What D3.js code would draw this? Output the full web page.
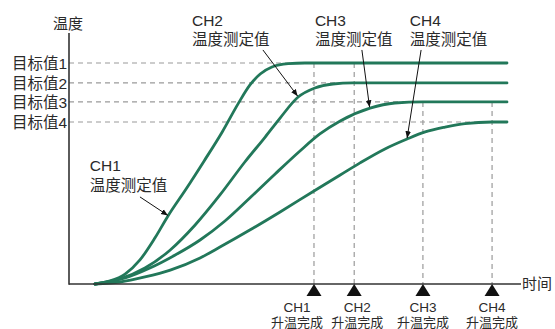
<!DOCTYPE html>
<html><head><meta charset="utf-8">
<script src="https://cdn.jsdelivr.net/npm/d3@7"></script>
<style>
html,body{margin:0;padding:0;background:#fff;}
svg{display:block;font-family:"Liberation Sans","Noto Sans CJK SC",sans-serif;}
</style></head>
<body>
<svg id="c" width="555" height="329"></svg>
<script>
// ---- data (time 0..100, temperature as % of target 1) ----
const channels = ["CH1","CH2","CH3","CH4"];
const targetLabels = ["目标值1","目标值2","目标值3","目标值4"];
const targets = [100, 91, 82.4, 73.3];
const doneTimes = [54.2, 63.1, 78.3, 93.6];
const endTime = 96.9;
const ch1 = [[5.75,0],[9.1,1.4],[12.4,4.5],[15.7,10.9],[19.0,20.8],[21.9,30.8],[25.9,43.0],[29.9,55.7],[33.9,68.8],[37.4,81.5],[40.0,90.0],[42.3,95.0],[44.9,98.2],[48.5,99.7],[52.2,100],[54.2,100],[96.9,100]];
const ch2 = [[5.75,0],[11.3,2.3],[16.8,7.2],[22.4,15.4],[27.9,26.7],[33.4,40.3],[38.9,55.2],[43.4,66.5],[46.7,75.1],[50.7,84.6],[54.4,88.7],[58.4,90.5],[62.8,91],[63.1,91],[96.9,91]];
const ch3 = [[5.75,0],[12.4,2.7],[17.9,7.2],[23.5,13.1],[29.0,19.9],[34.5,28.5],[40.0,38.9],[45.6,49.8],[51.1,60.2],[55.5,67.9],[60.0,73.8],[66.6,79.6],[72.1,81.9],[78.3,82.4],[96.9,82.4]];
const ch4 = [[5.75,0],[11.3,0.9],[16.8,3.2],[22.4,6.3],[29.0,11.8],[33.4,16.7],[40.0,24.4],[46.7,32.6],[54.2,42.1],[60.0,49.3],[64.4,54.8],[69.9,61.1],[74.8,65.6],[78.8,68.8],[83.2,71.0],[87.6,72.6],[93.6,73.3],[96.9,73.3]];
const series = [ch1, ch2, ch3, ch4];
const vLineTop = [100, 100, 82.4, 82.4];
const axisTitleY = "温度", axisTitleX = "时间";
const seriesNote = "温度测定值", doneNote = "升温完成";

// ---- layout ----
const W = 555, H = 329;
const x = d3.scaleLinear().domain([0,100]).range([69,521]);
const y = d3.scaleLinear().domain([0,100]).range([284,63]);
const green = "#22785a", ink = "#2a2a2a", dash = "#9a9a9a";
const svg = d3.select("#c");

// horizontal target dashed lines
svg.append("g").selectAll("line").data(targets).join("line")
  .attr("x1", x(0)).attr("x2", (d,i)=>x(doneTimes[i]))
  .attr("y1", d=>y(d)).attr("y2", d=>y(d))
  .attr("stroke", dash).attr("stroke-width",1.2).attr("stroke-dasharray","5,4");
// vertical completion dashed lines
svg.append("g").selectAll("line").data(doneTimes).join("line")
  .attr("x1", d=>x(d)).attr("x2", d=>x(d))
  .attr("y1", (d,i)=>y(vLineTop[i])).attr("y2", y(0))
  .attr("stroke", dash).attr("stroke-width",1.2).attr("stroke-dasharray","5,4");

// curves
const line = d3.line().x(d=>x(d[0])).y(d=>y(d[1])).curve(d3.curveMonotoneX);
svg.append("g").selectAll("path").data(series).join("path")
  .attr("d", line).attr("fill","none").attr("stroke",green)
  .attr("stroke-width",2.8).attr("stroke-linecap","round");

// axes
svg.append("line").attr("x1",x(0)).attr("x2",x(0)).attr("y1",33).attr("y2",y(0)+0.75)
  .attr("stroke","#333").attr("stroke-width",1.6);
svg.append("line").attr("x1",x(0)).attr("x2",x(100)).attr("y1",y(0)).attr("y2",y(0))
  .attr("stroke","#333").attr("stroke-width",1.6);
svg.append("text").attr("x",x(0)-1).attr("y",29).attr("text-anchor","middle")
  .attr("font-size",15).attr("fill",ink).text(axisTitleY);
svg.append("text").attr("x",x(100)+1).attr("y",y(0)).attr("dy","0.36em")
  .attr("font-size",15).attr("fill",ink).text(axisTitleX);

// target labels
svg.append("g").selectAll("text").data(targets).join("text")
  .attr("x", x(0)-2).attr("y", d=>y(d)).attr("dy","0.38em").attr("text-anchor","end")
  .attr("font-size",15.5).attr("fill",ink).text((d,i)=>targetLabels[i]);

// completion triangles + labels
const labelDx = [-17, 3, 0, 0];
svg.append("g").selectAll("path").data(doneTimes).join("path")
  .attr("d", d=>{const cx=x(d), b=y(0); return `M${cx-7.5},${b+12}L${cx+7.5},${b+12}L${cx},${b}Z`;})
  .attr("fill","#111");
const bl = svg.append("g").selectAll("g").data(doneTimes).join("g")
  .attr("transform",(d,i)=>`translate(${x(d)+labelDx[i]},0)`);
bl.append("text").attr("y",312).attr("text-anchor","middle").attr("font-size",13.5)
  .attr("fill",ink).text((d,i)=>channels[i]);
bl.append("text").attr("y",327).attr("text-anchor","middle").attr("font-size",13)
  .attr("fill",ink).text(doneNote);

// annotations (data coordinates)
const notes = [
  {ch:0, lx:4.6, ly1:51.1, ly2:42.1, tail:[15.7,39.4], tip:[21.9,31.0]},
  {ch:1, lx:27.2, ly1:116.7, ly2:108.1, tail:[42.9,105.9], tip:[50.6,85.0]},
  {ch:2, lx:54.4, ly1:116.7, ly2:108.1, tail:[64.8,105.9], tip:[66.5,80.0]},
  {ch:3, lx:75.4, ly1:116.7, ly2:108.1, tail:[77.9,105.9], tip:[74.8,66.0]}
];
svg.append("defs").append("marker").attr("id","ah").attr("viewBox","0 0 10 10")
  .attr("refX",10).attr("refY",5).attr("markerWidth",7).attr("markerHeight",7)
  .attr("markerUnits","userSpaceOnUse").attr("orient","auto")
  .append("path").attr("d","M0,1L10,5L0,9Z").attr("fill","#111");
const ag = svg.append("g").selectAll("g").data(notes).join("g");
ag.append("text").attr("x",d=>x(d.lx)).attr("y",d=>y(d.ly1)).attr("font-size",15.5)
  .attr("fill",ink).text(d=>channels[d.ch]);
ag.append("text").attr("x",d=>x(d.lx)).attr("y",d=>y(d.ly2)).attr("font-size",15.5)
  .attr("fill",ink).text(seriesNote);
ag.append("line").attr("x1",d=>x(d.tail[0])).attr("y1",d=>y(d.tail[1]))
  .attr("x2",d=>x(d.tip[0])).attr("y2",d=>y(d.tip[1]))
  .attr("stroke","#111").attr("stroke-width",1).attr("marker-end","url(#ah)");
</script>
</body></html>
